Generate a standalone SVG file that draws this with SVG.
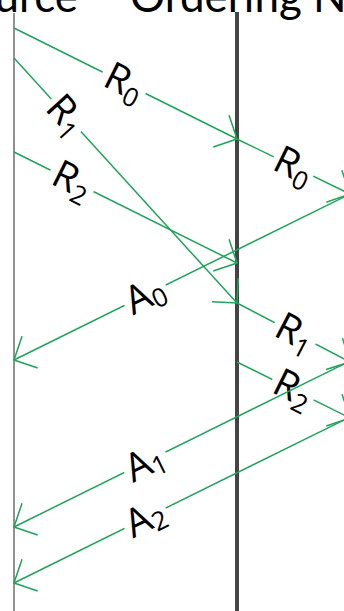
<svg xmlns="http://www.w3.org/2000/svg" width="344" height="611" viewBox="0 0 344 611">
<style>
.msg{fill:none;stroke:#1fa35a;stroke-width:1.5}
.lbl{font-family:"Open Sans",Lato,"Liberation Sans",sans-serif;font-size:39px;font-weight:500;fill:#000}
.sub{font-size:26px}
.bg{fill:#fff}
.title{font-family:Lato,"Open Sans","Liberation Sans",sans-serif;font-size:44px;fill:#000}
</style>
<defs>
<marker id="ah" markerUnits="userSpaceOnUse" viewBox="-20 -20 40 40" markerWidth="40" markerHeight="40" refX="0" refY="0" orient="auto" overflow="visible">
<path d="M-17.7,-17.7 L0,0 L-17.7,17.7" fill="none" stroke="#1fa35a" stroke-width="1.5"/>
</marker>
</defs>
<g id="source">
<text class="title" x="78" y="12" text-anchor="end">Source</text>
<line x1="14" y1="13" x2="14" y2="611" stroke="#777" stroke-width="1.6"/>
</g>
<g id="ordering-node">
<text class="title" x="130" y="12">Ordering Node</text>
<line x1="237" y1="12" x2="237" y2="611" stroke="#444" stroke-width="4"/>
</g>
<g id="connectors">
<g id="requests">
<line class="msg" x1="14" y1="28" x2="237" y2="139" marker-end="url(#ah)"/>
<line class="msg" x1="14" y1="58" x2="237" y2="303" marker-end="url(#ah)"/>
<line class="msg" x1="14" y1="152" x2="237" y2="263" marker-end="url(#ah)"/>
<line class="msg" x1="237" y1="139" x2="350" y2="194" marker-end="url(#ah)"/>
<line class="msg" x1="237" y1="303" x2="350" y2="362" marker-end="url(#ah)"/>
<line class="msg" x1="237" y1="362" x2="350" y2="418" marker-end="url(#ah)"/>
</g>
<g id="request-labels">
<g transform="translate(124,83) rotate(26.5)"><rect class="bg" x="-24" y="-20" width="48" height="40"/><text class="lbl" x="0" y="12" text-anchor="middle">R<tspan class="sub" dy="7">0</tspan></text></g>
<g transform="translate(66,115.5) rotate(47.7)"><rect class="bg" x="-22" y="-20" width="44" height="40"/><text class="lbl" x="0" y="12" text-anchor="middle">R<tspan class="sub" dy="7">1</tspan></text></g>
<g transform="translate(72,181) rotate(26.5)"><rect class="bg" x="-24" y="-20" width="48" height="40"/><text class="lbl" x="0" y="12" text-anchor="middle">R<tspan class="sub" dy="7">2</tspan></text></g>
<g transform="translate(293.5,166.5) rotate(26)"><rect class="bg" x="-22" y="-20" width="44" height="40"/><text class="lbl" x="0" y="12" text-anchor="middle">R<tspan class="sub" dy="7">0</tspan></text></g>
<g transform="translate(295,333.5) rotate(27.6)"><rect class="bg" x="-23" y="-20" width="46" height="40"/><text class="lbl" x="0" y="12" text-anchor="middle">R<tspan class="sub" dy="7">1</tspan></text></g>
<g transform="translate(293,389.5) rotate(26.4)"><rect class="bg" x="-23" y="-20" width="46" height="40"/><text class="lbl" x="0" y="12" text-anchor="middle">R<tspan class="sub" dy="7">2</tspan></text></g>
</g>
<g id="acks">
<line class="msg" x1="350" y1="194" x2="14" y2="360" marker-end="url(#ah)"/>
<line class="msg" x1="350" y1="361" x2="14" y2="527" marker-end="url(#ah)"/>
<line class="msg" x1="350" y1="417" x2="14" y2="583" marker-end="url(#ah)"/>
</g>
<g id="ack-labels">
<g transform="translate(145,295) rotate(-26.3)"><rect class="bg" x="-23" y="-20" width="46" height="40"/><text class="lbl" x="0" y="13" text-anchor="middle">A<tspan class="sub" dy="5">0</tspan></text></g>
<g transform="translate(145,462.5) rotate(-26.3)"><rect class="bg" x="-23" y="-20" width="46" height="40"/><text class="lbl" x="0" y="13" text-anchor="middle">A<tspan class="sub" dy="5">1</tspan></text></g>
<g transform="translate(145,518) rotate(-26.3)"><rect class="bg" x="-23" y="-20" width="46" height="40"/><text class="lbl" x="0" y="13" text-anchor="middle">A<tspan class="sub" dy="5">2</tspan></text></g>
</g>
</g>
</svg>
